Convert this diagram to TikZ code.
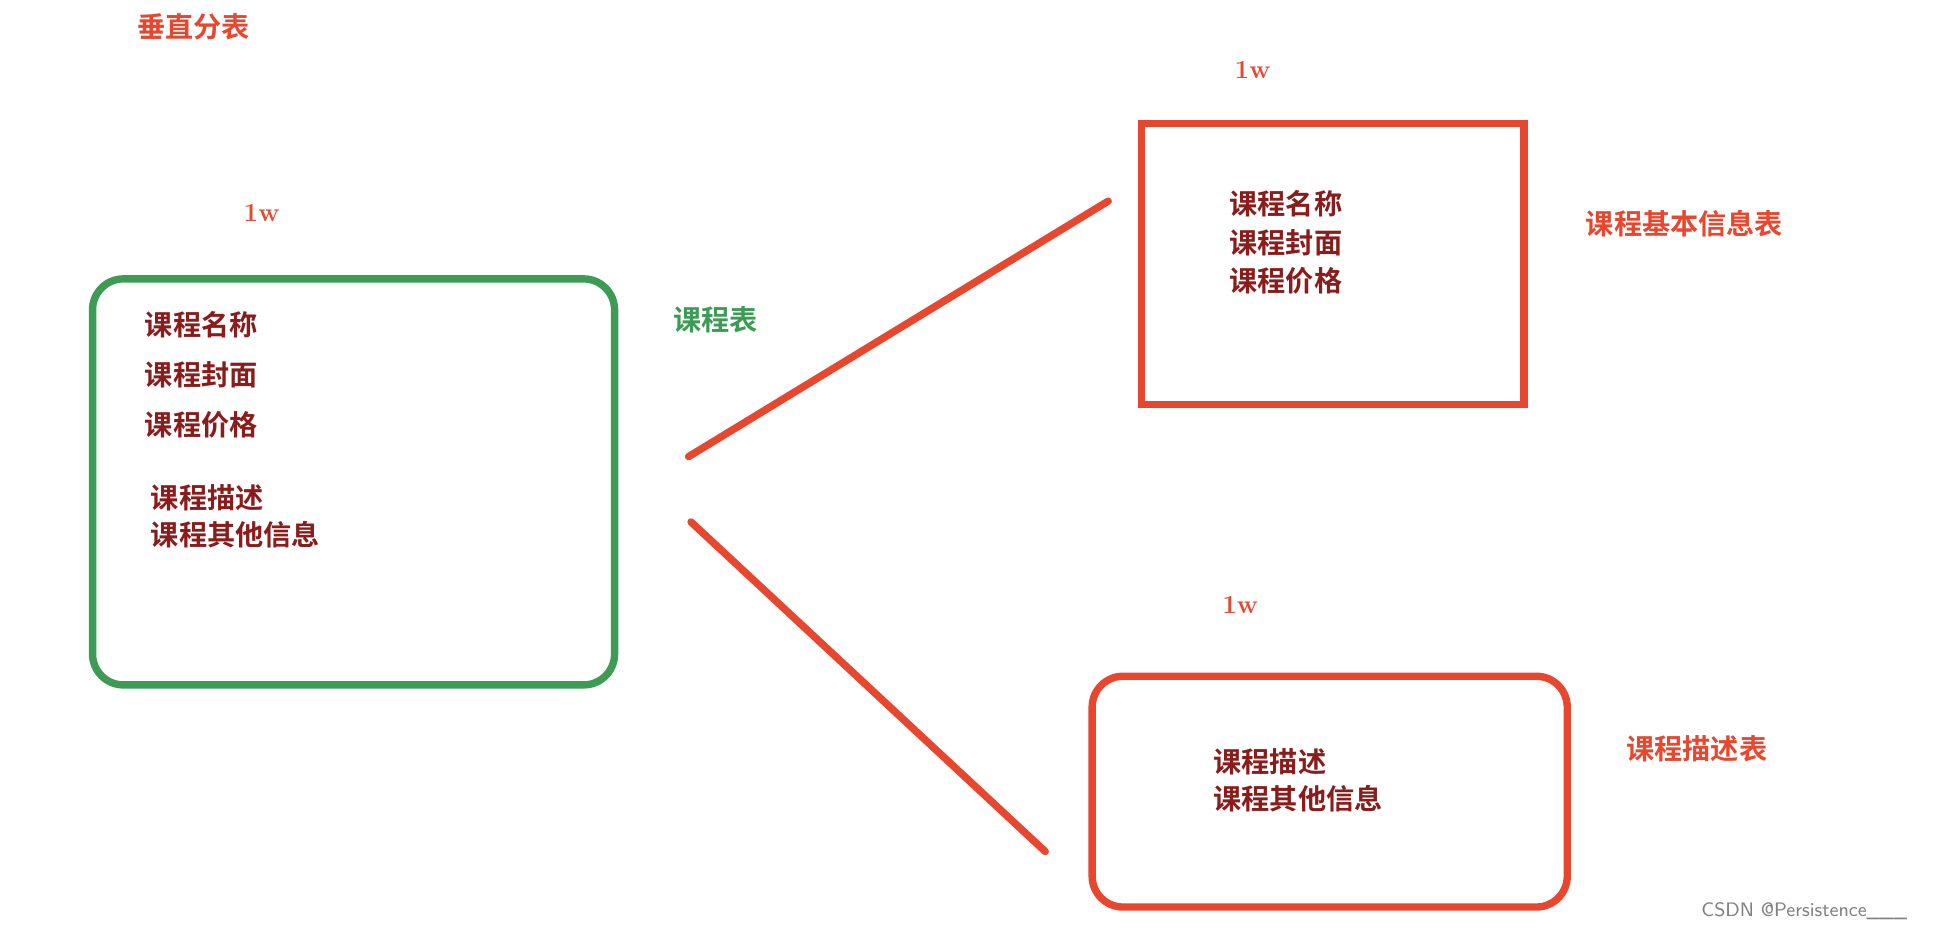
\documentclass[tikz,border=0pt]{standalone}
\usepackage{fontspec}
\newfontfamily\cjk{Noto Sans CJK SC}[BoldFont={Noto Sans CJK SC Bold}]
\definecolor{myred}{HTML}{E8472F}
\definecolor{mygreen}{HTML}{3E9B55}
\definecolor{dred}{HTML}{8A1C1C}
\begin{document}
\begin{tikzpicture}[x=0.02cm,y=-0.02cm,
  lbl/.style={font=\cjk\bfseries\fontsize{13}{15}\selectfont,inner sep=0},
  body/.style={lbl,text=dred,anchor=west,align=left},
  wl/.style={font=\bfseries\fontsize{12}{14}\selectfont,text=myred,inner sep=0},
  frame/.style={line width=6*0.02cm}]
\useasboundingbox (0,0) rectangle (1568,754);
\fill[white] (0,0) rectangle (1568,754);
\node[lbl,text=myred] (title) at (157,22) {垂直分表};
\node[wl] (w1) at (212,173) {1w};
\node[wl] (w2) at (1015,57) {1w};
\node[wl] (w3) at (1005,490) {1w};
\draw[frame,mygreen,rounded corners=25*0.02cm] (75,226) rectangle (498,555);
\node[body,anchor=north west,text height=] (g1) at (117,252) {\baselineskip=30\dimexpr0.02cm\relax 课程名称\\[8pt]课程封面\\[8pt]课程价格};
\node[body] (g2) at (122,403) {课程描述};
\node[body] (g3) at (122,433) {课程其他信息};
\node[lbl,text=mygreen] (t1) at (580,259) {课程表};
\coordinate (a1) at (558,370); \coordinate (b1) at (898,163);
\coordinate (a2) at (560,423); \coordinate (b2) at (847,690);
\draw[frame,myred,line cap=round] (a1) -- (b1);
\draw[frame,myred,line cap=round] (a2) -- (b2);
\draw[frame,myred] (925,100) rectangle (1235,328);
\node[body] (r1) at (996,165) {课程名称};
\node[body] (r2) at (996,197) {课程封面};
\node[body] (r3) at (996,228) {课程价格};
\node[lbl,text=myred] (t2) at (1365,181) {课程基本信息表};
\draw[frame,myred,rounded corners=25*0.02cm] (885,548) rectangle (1270,735);
\node[body] (s1) at (983,617) {课程描述};
\node[body] (s2) at (983,647) {课程其他信息};
\node[lbl,text=myred] (t3) at (1375,607) {课程描述表};
\node[font=\sffamily\fontsize{9}{10}\selectfont,text=gray,inner sep=0] (csdn) at (1462,738) {CSDN @Persistence\_\_\_};
\end{tikzpicture}
\end{document}
